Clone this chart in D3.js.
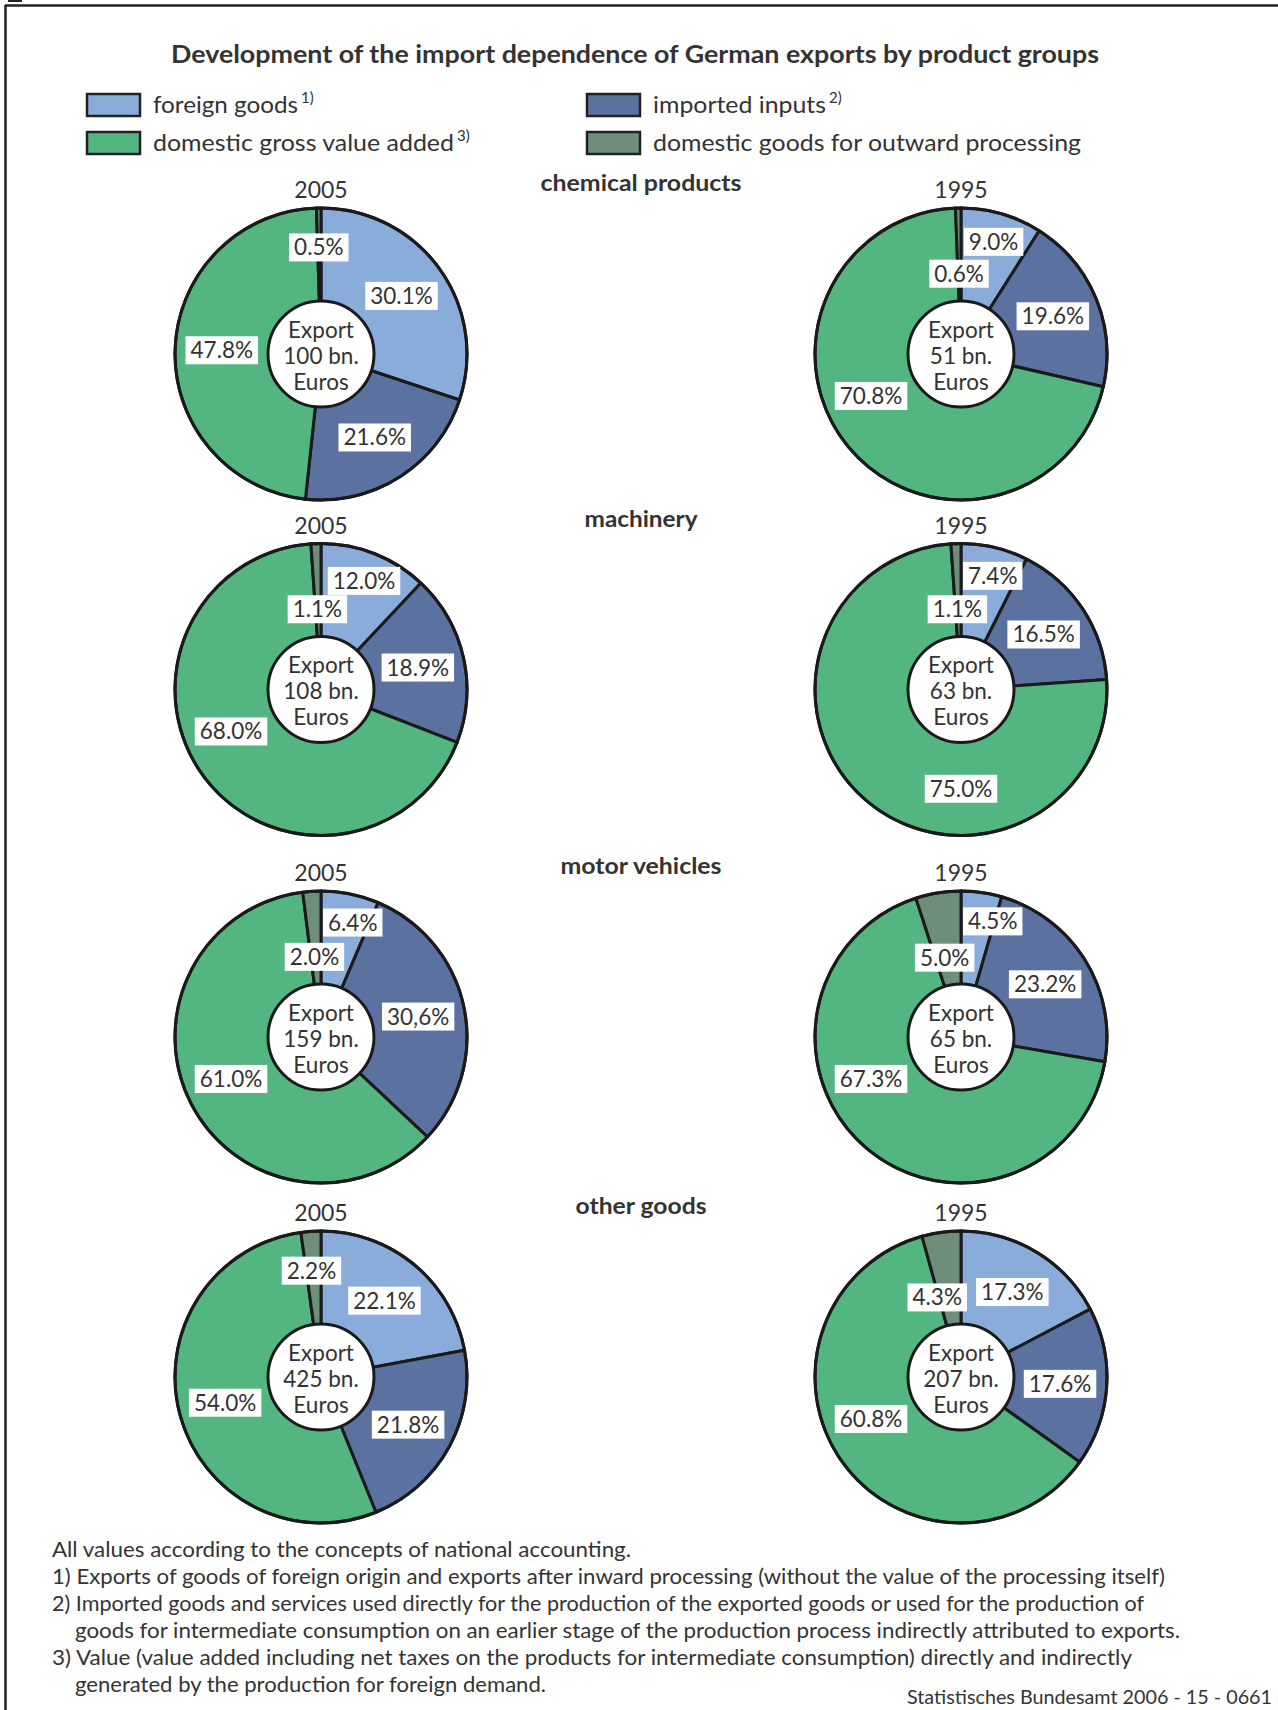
<!DOCTYPE html>
<html><head><meta charset="utf-8">
<script src="https://cdn.jsdelivr.net/npm/d3@7"></script>
<style>
html,body{margin:0;padding:0;background:#fff;}
svg{display:block;}
text{font-family:Lato,'Open Sans',sans-serif;fill:#333;}
</style></head><body>
<svg id="chart" width="1278" height="1710"></svg>
<script>
// ---------------- data ----------------
const title = "Development of the import dependence of German exports by product groups";
const categories = ["foreign goods", "imported inputs", "domestic gross value added", "domestic goods for outward processing"];
const categoryNotes = ["1)", "2)", "3)", ""];
const productGroups = ["chemical products", "machinery", "motor vehicles", "other goods"];
const years = ["2005", "1995"];

const foreign2005  = [30.1, 12.0, 6.4, 22.1];
const imported2005 = [21.6, 18.9, 30.6, 21.8];
const domestic2005 = [47.8, 68.0, 61.0, 54.0];
const outward2005  = [0.5, 1.1, 2.0, 2.2];
const export2005   = [100, 108, 159, 425];

const foreign1995  = [9.0, 7.4, 4.5, 17.3];
const imported1995 = [19.6, 16.5, 23.2, 17.6];
const domestic1995 = [70.8, 75.0, 67.3, 60.8];
const outward1995  = [0.6, 1.1, 5.0, 4.3];
const export1995   = [51, 63, 65, 207];

// label printed with a decimal comma in the original
const commaLabels = [{group: "motor vehicles", year: "2005", category: "imported inputs"}];

const footnotes = [
  "All values according to the concepts of national accounting.",
  "1) Exports of goods of foreign origin and exports after inward processing (without the value of the processing itself)",
  "2) Imported goods and services used directly for the production of the exported goods or used for the production of",
  "goods for intermediate consumption on an earlier stage of the production process indirectly attributed to exports.",
  "3) Value (value added including net taxes on the products for intermediate consumption) directly and indirectly",
  "generated by the production for foreign demand."
];
const source = "Statistisches Bundesamt 2006 - 15 - 0661";

// ---------------- layout ----------------
const W = 1278, H = 1710;
const R = 146, HOLE = 53;
const svg = d3.select("#chart");
const color = d3.scaleOrdinal().domain(categories).range(["#89acdb", "#5b72a1", "#53b680", "#6f8e79"]);
const xYear = d3.scaleOrdinal().domain(years).range([321, 961]);
const yGroup = d3.scaleOrdinal().domain(productGroups).range([354, 689.5, 1037, 1377]);
const groupTitleWidth = d3.scaleOrdinal().domain(productGroups).range([201, 113, 161, 131]);

const dataByYear = {
  "2005": {f: foreign2005, i: imported2005, d: domestic2005, o: outward2005, e: export2005},
  "1995": {f: foreign1995, i: imported1995, d: domestic1995, o: outward1995, e: export1995}
};

// frame
svg.append("line").attr("x1", 5).attr("y1", 5.5).attr("x2", W).attr("y2", 5.5)
  .attr("stroke", "#222").attr("stroke-width", 2.5);
svg.append("line").attr("x1", 5.5).attr("y1", 5).attr("x2", 5.5).attr("y2", H)
  .attr("stroke", "#222").attr("stroke-width", 2.5);
svg.append("line").attr("x1", 8).attr("y1", 1).attr("x2", 22).attr("y2", 1)
  .attr("stroke", "#222").attr("stroke-width", 2);

// title
svg.append("text").attr("x", 635).attr("y", 63).attr("text-anchor", "middle")
  .attr("font-size", 24).attr("font-weight", 700).attr("fill", "#3a3a3a")
  .attr("textLength", 928).attr("lengthAdjust", "spacingAndGlyphs")
  .text(title);

// legend
const legendX = [87, 587], legendY = [94, 132];
const legendTextW = [145, 173, 301, 428];
categories.forEach((c, k) => {
  const col = k % 2, row = Math.floor(k / 2);
  const g = svg.append("g").attr("transform", `translate(${legendX[col]},${legendY[row]})`);
  g.append("rect").attr("x", 0).attr("y", 0).attr("width", 53).attr("height", 22)
    .attr("fill", color(c)).attr("stroke", "#222").attr("stroke-width", 2.5);
  g.append("text").attr("x", 66).attr("y", 19).attr("font-size", 23)
    .attr("textLength", legendTextW[k]).attr("lengthAdjust", "spacingAndGlyphs").text(c);
  if (categoryNotes[k]) {
    g.append("text").attr("x", 66 + legendTextW[k] + 3).attr("y", 9).attr("font-size", 15)
      .text(categoryNotes[k]);
  }
});

// pies
const pie = d3.pie().sort(null).value(d => d.v).startAngle(0).endAngle(2 * Math.PI);
const arc = d3.arc().innerRadius(0).outerRadius(R);

productGroups.forEach((grp, gi) => {
  const cy = yGroup(grp);
  svg.append("text").attr("x", 641).attr("y", cy - 163).attr("text-anchor", "middle")
    .attr("font-size", 22).attr("font-weight", 700).attr("fill", "#3a3a3a")
    .attr("textLength", groupTitleWidth(grp)).attr("lengthAdjust", "spacingAndGlyphs")
    .text(grp);

  years.forEach(yr => {
    const cx = xYear(yr);
    const src = dataByYear[yr];
    const vals = [src.f[gi], src.i[gi], src.d[gi], src.o[gi]];
    const slices = categories.map((c, k) => ({c, k, v: vals[k]}));
    const arcs = pie(slices);
    const g = svg.append("g").attr("transform", `translate(${cx},${cy})`);

    svg.append("text").attr("x", cx).attr("y", cy - 156).attr("text-anchor", "middle")
      .attr("font-size", 23).text(yr);

    g.selectAll("path.slice").data(arcs).join("path").attr("class", "slice")
      .attr("d", arc).attr("fill", d => color(d.data.c))
      .attr("stroke", "#1a1a1a").attr("stroke-width", 3).attr("stroke-linejoin", "round");
    g.append("circle").attr("r", R).attr("fill", "none").attr("stroke", "#1a1a1a").attr("stroke-width", 3);
    g.append("circle").attr("r", HOLE).attr("fill", "#fff").attr("stroke", "#1a1a1a").attr("stroke-width", 3);

    // center text
    const ct = ["Export", `${src.e[gi]} bn.`, "Euros"];
    [-16.5, 9.5, 35.5].forEach((dy, j) => {
      g.append("text").attr("x", 0).attr("y", dy).attr("text-anchor", "middle")
        .attr("font-size", 22.5).text(ct[j]);
    });

    // value labels
    const foreignV = vals[0];
    arcs.forEach(a => {
      const k = a.data.k;
      const useComma = commaLabels.some(e => e.group === grp && e.year === yr && e.category === a.data.c);
      let txt = a.data.v.toFixed(1) + "%";
      if (useComma) txt = txt.replace(".", ",");
      const lg = g.append("g");
      const t = lg.append("text").attr("text-anchor", "middle").attr("font-size", 22.5).text(txt);
      const tw = t.node().getComputedTextLength();
      const bw = tw + 10, bh = 28;
      let mid = (a.startAngle + a.endAngle) / 2;
      let x, y, r;
      if (k === 0) {
        r = a.data.v < 15 ? 0.8 * R : 0.68 * R;
        x = Math.sin(mid) * r; y = -Math.cos(mid) * r;
        if (a.data.v < 15) x = Math.max(x, bw / 2 + 2);
      } else if (k === 1) {
        r = 0.68 * R; x = Math.sin(mid) * r; y = -Math.cos(mid) * r;
      } else if (k === 2) {
        // very large domestic slice: label at the bottom; otherwise lower left
        mid = a.data.v >= 74 ? Math.PI : Math.max(mid, 245 * Math.PI / 180);
        r = 0.68 * R; x = Math.sin(mid) * r; y = -Math.cos(mid) * r;
      } else {
        r = foreignV < 20 ? 0.55 * R : 0.73 * R;
        const m = mid - 2 * Math.PI;
        x = Math.sin(m) * r * (foreignV < 20 && foreignV >= 15 ? 2.2 : 1.3);
        y = -Math.cos(m) * r;
      }
      lg.insert("rect", "text").attr("x", x - bw / 2).attr("y", y - bh / 2)
        .attr("width", bw).attr("height", bh).attr("fill", "#fff");
      t.attr("x", x).attr("y", y + 8);
    });
  });
});

// footnotes
const fnX = [52, 52, 52, 75, 52, 75];
const fnW = [579, 1113, 1092, 1105, 1080, 471];
footnotes.forEach((line, j) => {
  svg.append("text").attr("x", fnX[j]).attr("y", 1557 + 27 * j).attr("font-size", 21)
    .attr("textLength", fnW[j]).attr("lengthAdjust", "spacingAndGlyphs").text(line);
});
svg.append("text").attr("x", 1272).attr("y", 1704).attr("text-anchor", "end")
  .attr("font-size", 19).attr("textLength", 365).attr("lengthAdjust", "spacingAndGlyphs").text(source);
</script>
</body></html>
